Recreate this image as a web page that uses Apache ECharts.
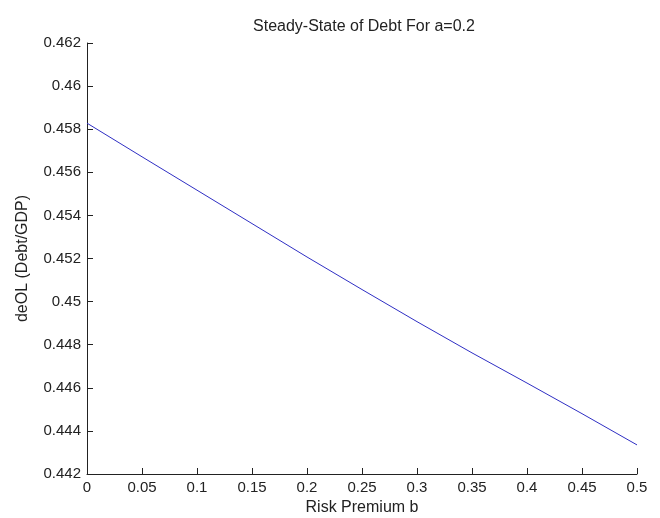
<!DOCTYPE html>
<html>
<head>
<meta charset="utf-8">
<script src="https://cdn.jsdelivr.net/npm/echarts@6/dist/echarts.min.js"></script>
<style>html,body{margin:0;padding:0;background:#fff}#c{width:660px;height:518px}</style>
</head>
<body>
<div id="c"></div>
<script>
const bValues = [0, 0.05, 0.10, 0.15, 0.20, 0.25, 0.30, 0.35, 0.40, 0.45, 0.50];
const debtValues = [0.45828, 0.45672, 0.45517, 0.45362, 0.45207, 0.45056, 0.44907, 0.44762, 0.44622, 0.44480, 0.44335];
const titleText = 'Steady-State of Debt For a=0.2';
const xName = 'Risk Premium b';
const yName = 'deOL (Debt/GDP)';

const chart = echarts.init(document.getElementById('c'));
const font = 'Liberation Sans, Arial, sans-serif';
const axisCol = '#222';
chart.setOption({
  animation: false,
  backgroundColor: '#fff',
  title: {
    text: titleText, left: 359, top: 14, textAlign: 'center',
    textStyle: {fontFamily: font, fontSize: 16, fontWeight: 'normal', color: '#222'}
  },
  grid: {left: 87, right: 23, top: 43, bottom: 44, containLabel: false, outerBoundsMode: 'none'},
  xAxis: {
    type: 'value', min: 0, max: 0.5, interval: 0.05,
    name: xName, nameLocation: 'middle', nameGap: 23,
    nameTextStyle: {fontFamily: font, fontSize: 16, color: '#222'},
    axisLine: {show: true, onZero: false, lineStyle: {color: axisCol, width: 1}},
    axisTick: {show: true, inside: true, length: 6, lineStyle: {color: axisCol}},
    axisLabel: {fontFamily: font, fontSize: 15, color: '#222', margin: 6},
    splitLine: {show: false}
  },
  yAxis: {
    type: 'value', min: 0.442, max: 0.462, interval: 0.002,
    name: yName, nameLocation: 'middle', nameGap: 56, nameRotate: 90,
    nameTextStyle: {fontFamily: font, fontSize: 16, color: '#222'},
    axisLine: {show: true, onZero: false, lineStyle: {color: axisCol, width: 1}},
    axisTick: {show: true, inside: true, length: 6, lineStyle: {color: axisCol}},
    axisLabel: {fontFamily: font, fontSize: 15, color: '#222', margin: 6,
      formatter: v => String(+v.toFixed(4))},
    splitLine: {show: false}
  },
  series: [{
    type: 'line', showSymbol: false, smooth: false,
    data: bValues.map((b, i) => [b, debtValues[i]]),
    lineStyle: {color: '#2f2fc4', width: 1}
  }]
});
</script>
</body>
</html>
